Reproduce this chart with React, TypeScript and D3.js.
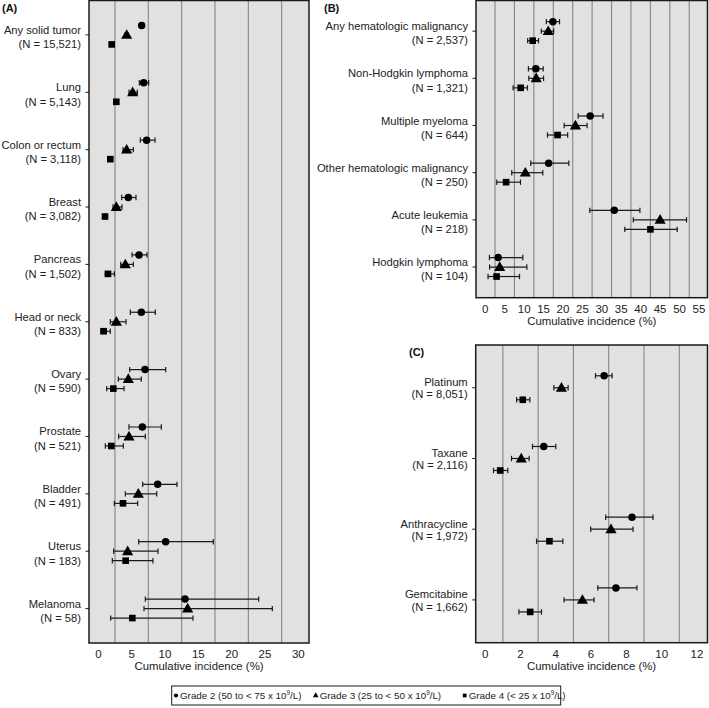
import * as d3 from 'd3'

const FONT = "'Liberation Sans', Arial, Helvetica, sans-serif"
const INK = '#1a1a1a'

// (A) solid tumors — [estimate, lower CI, upper CI]
const aCats = ['Any solid tumor', 'Lung', 'Colon or rectum', 'Breast', 'Pancreas', 'Head or neck', 'Ovary', 'Prostate', 'Bladder', 'Uterus', 'Melanoma']
const aNs = ['15,521', '5,143', '3,118', '3,082', '1,502', '833', '590', '521', '491', '183', '58']
const aGrade2 = [[6.5, 6.2, 6.8], [6.8, 6.15, 7.55], [7.25, 6.3, 8.5], [4.5, 3.5, 5.65], [6.1, 5.05, 7.3], [6.45, 4.8, 8.55], [7.0, 4.7, 10.1], [6.6, 4.6, 9.45], [8.9, 6.65, 11.8], [10.1, 6.05, 17.25], [13.0, 7.05, 24.05]]
const aGrade3 = [[4.25, 4.0, 4.5], [5.15, 4.6, 5.85], [4.25, 3.7, 5.25], [2.7, 2.2, 3.55], [4.05, 3.35, 5.25], [2.7, 1.8, 4.15], [4.5, 3.0, 6.45], [4.6, 3.05, 7.05], [6.0, 4.05, 8.75], [4.4, 2.3, 8.95], [13.4, 6.85, 26.1]]
const aGrade4 = [[2.0, 1.85, 2.15], [2.7, 2.5, 2.9], [1.8, 1.6, 2.1], [1.0, 0.9, 1.1], [1.45, 1.05, 2.4], [0.8, 0.4, 1.8], [2.25, 1.25, 3.85], [1.95, 1.05, 3.75], [3.7, 2.4, 5.9], [4.1, 2.1, 8.2], [5.1, 1.85, 14.2]]
const aTicks = [0, 5, 10, 15, 20, 25, 30]
const aGrid = [2.5, 7.5, 12.5, 17.5, 22.5, 27.5]

// (B) hematologic malignancies
const bCats = ['Any hematologic malignancy', 'Non-Hodgkin lymphoma', 'Multiple myeloma', 'Other hematologic malignancy', 'Acute leukemia', 'Hodgkin lymphoma']
const bNs = ['2,537', '1,321', '644', '250', '218', '104']
const bGrade2 = [[17.4, 15.7, 19.1], [13.0, 11.1, 14.9], [27.0, 23.9, 30.3], [16.3, 11.7, 21.5], [33.2, 26.9, 39.8], [3.3, 1.05, 9.65]]
const bGrade3 = [[16.2, 14.4, 17.6], [13.1, 11.2, 15.0], [23.2, 20.3, 26.2], [10.3, 6.8, 14.8], [45.0, 38.1, 51.8], [3.7, 1.1, 10.7]]
const bGrade4 = [[12.2, 10.9, 13.7], [9.1, 7.15, 10.85], [18.6, 16.0, 21.2], [5.35, 2.95, 9.05], [42.5, 35.9, 49.4], [2.9, 0.7, 8.8]]
const bTicks = [0, 5, 10, 15, 20, 25, 30, 35, 40, 45, 50, 55]
const bGrid = [2.5, 7.5, 12.5, 17.5, 22.5, 27.5, 32.5, 37.5, 42.5, 47.5, 52.5]

// (C) chemotherapy class
const cCats = ['Platinum', 'Taxane', 'Anthracycline', 'Gemcitabine']
const cNs = ['8,051', '2,116', '1,972', '1,662']
const cGrade2 = [[6.74, 6.25, 7.19], [3.32, 2.68, 4.0], [8.32, 6.83, 9.51], [7.41, 6.38, 8.6]]
const cGrade3 = [[4.32, 3.89, 4.7], [2.04, 1.49, 2.49], [7.13, 5.98, 8.38], [5.51, 4.47, 6.17]]
const cGrade4 = [[2.13, 1.78, 2.53], [0.85, 0.47, 1.28], [3.64, 2.91, 4.4], [2.55, 1.91, 3.19]]
const cTicks = [0, 2, 4, 6, 8, 10, 12]
const cGrid = [1, 3, 5, 7, 9, 11]

const SHAPES = [d3.symbolCircle, d3.symbolTriangle, d3.symbolSquare]
const SIZES = [44, 54, 44]

type Row = number[]
interface PanelProps {
  cats: string[]
  ns: string[]
  series: Row[][]
  domain: [number, number]
  ticks: number[]
  grid: number[]
  left: number
  right: number
  top: number
  bottom: number
  pad: number
  offset: number
  dy1: number
  dy2: number
}

function Panel({ cats, ns, series, domain, ticks, grid, left, right, top, bottom, pad, offset, dy1, dy2 }: PanelProps) {
  const x = d3.scaleLinear().domain(domain).range([left, right])
  const y = d3.scalePoint<string>().domain(cats).range([top, bottom]).padding(pad)

  return (
    <g fontFamily={FONT}>
      <rect x={left} y={top} width={right - left} height={bottom - top} fill="#e1e1e1" />
      {grid.map(g => (
        <line key={g} x1={x(g)} x2={x(g)} y1={top} y2={bottom} stroke="#858585" strokeWidth={1.1} />
      ))}
      <rect x={left} y={top} width={right - left} height={bottom - top} fill="none" stroke={INK} strokeWidth={1.5} />

      {cats.map((c, i) => {
        const yc = y(c)!
        return (
          <g key={c}>
            <line x1={left - 3.5} x2={left} y1={yc} y2={yc} stroke={INK} />
            <text x={left - 8} y={yc + dy1 + 4} textAnchor="end" fontSize={11.2} fill="#222">{c}</text>
            <text x={left - 8} y={yc + dy2 + 4} textAnchor="end" fontSize={11.2} fill="#222">{`(N = ${ns[i]})`}</text>
            {series.map((s, k) => {
              const [est, lo, hi] = s[i]
              const yy = yc + (k - 1) * offset
              return (
                <g key={k}>
                  <line x1={x(lo)} x2={x(hi)} y1={yy} y2={yy} stroke={INK} strokeWidth={1.2} />
                  <line x1={x(lo)} x2={x(lo)} y1={yy - 2.7} y2={yy + 2.7} stroke={INK} strokeWidth={1.2} />
                  <line x1={x(hi)} x2={x(hi)} y1={yy - 2.7} y2={yy + 2.7} stroke={INK} strokeWidth={1.2} />
                  <path
                    d={d3.symbol(SHAPES[k], SIZES[k])() || ''}
                    transform={`translate(${x(est)},${yy + (k === 1 ? 0.7 : 0)})`}
                    fill="#000"
                  />
                </g>
              )
            })}
          </g>
        )
      })}

      {ticks.map(t => (
        <text key={t} x={x(t)} y={bottom + 15} textAnchor="middle" fontSize={11.5} fill="#222">{t}</text>
      ))}
      <text x={(left + right) / 2} y={bottom + 27} textAnchor="middle" fontSize={11.4} fill="#222">
        Cumulative incidence (%)
      </text>
    </g>
  )
}

const LEGEND = [
  { label: 'Grade 2 (50 to < 75 x 10', tail: '/L)', x: 176 },
  { label: 'Grade 3 (25 to < 50 x 10', tail: '/L)', x: 315.7 },
  { label: 'Grade 4 (< 25 x 10', tail: '/L)', x: 464.7 },
]

export default function App() {
  return (
    <svg width={709} height={708} style={{ position: 'absolute', left: 0, top: 0, background: '#fff' }}>
      <Panel cats={aCats} ns={aNs} series={[aGrade2, aGrade3, aGrade4]} domain={[-1.4, 31.6]}
        ticks={aTicks} grid={aGrid} left={89} right={309} top={0.5} bottom={643}
        pad={0.6} offset={9.5} dy1={-5} dy2={9.3} />
      <Panel cats={bCats} ns={bNs} series={[bGrade2, bGrade3, bGrade4]} domain={[-2.4, 57.2]}
        ticks={bTicks} grid={bGrid} left={476} right={707.5} top={0.5} bottom={297.7}
        pad={0.65} offset={9.5} dy1={-5} dy2={9.3} />
      <Panel cats={cCats} ns={cNs} series={[cGrade2, cGrade3, cGrade4]} domain={[-0.54, 12.6]}
        ticks={cTicks} grid={cGrid} left={475.7} right={707.5} top={345} bottom={642.7}
        pad={0.605} offset={12} dy1={-5.6} dy2={6.7} />

      <g fontFamily={FONT} fontWeight="bold" fontSize={11} fill="#111">
        <text x={2} y={11.5}>(A)</text>
        <text x={324} y={11.5}>(B)</text>
        <text x={409} y={356}>(C)</text>
      </g>

      <g fontFamily={FONT}>
        <rect x={171.7} y={686} width={389} height={19} fill="#fff" stroke={INK} strokeWidth={1} />
        {LEGEND.map((d, k) => (
          <g key={k}>
            <path d={d3.symbol(SHAPES[k], 14)() || ''} transform={`translate(${d.x},${695.5})`} fill="#000" />
            <text x={d.x + 4} y={699} fontSize={9.8} fill="#222">
              {d.label}
              <tspan fontSize={6.3} dy={-4}>9</tspan>
              <tspan dy={4}>{d.tail}</tspan>
            </text>
          </g>
        ))}
      </g>
    </svg>
  )
}
